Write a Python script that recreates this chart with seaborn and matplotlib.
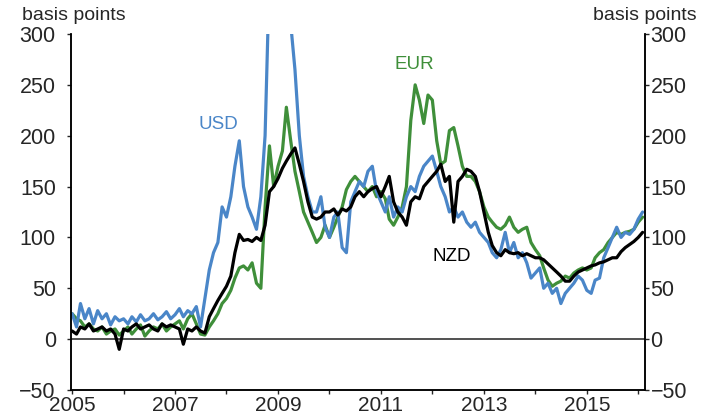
import numpy as np
import pandas as pd
import matplotlib
matplotlib.use("Agg")
import matplotlib.pyplot as plt
import matplotlib.ticker as mticker
import seaborn as sns

sns.set_style("ticks")
plt.rcParams['font.family'] = ['Liberation Sans', 'DejaVu Sans']

# monthly observations, Jan 2005 - Feb 2016 (basis points)
months = pd.date_range("2005-01-01", "2016-02-01", freq="MS")

usd = [25, 12, 35, 20, 30, 15, 28, 20, 25, 14, 22, 18,      # 2005
       20, 15, 22, 17, 24, 18, 20, 25, 19, 22, 27, 20,      # 2006
       24, 30, 22, 28, 25, 32, 12, 40, 68, 85, 95, 130,     # 2007
       120, 140, 170, 195, 150, 130, 120, 108, 140, 200, 360, 380,  # 2008
       360, 340, 330, 310, 265, 200, 160, 140, 125, 125, 140, 110,  # 2009
       100, 120, 125, 90, 85, 135, 145, 155, 150, 165, 170, 145,    # 2010
       135, 125, 140, 120, 130, 125, 140, 150, 145, 160, 170, 175,  # 2011
       180, 165, 150, 140, 125, 130, 120, 125, 115, 110, 115, 105,  # 2012
       100, 95, 85, 80, 88, 105, 85, 95, 80, 85, 75, 60,            # 2013
       65, 70, 50, 55, 45, 50, 35, 45, 50, 55, 62, 58,              # 2014
       48, 45, 58, 60, 80, 90, 100, 110, 100, 105, 103, 108,        # 2015
       118, 125]                                                    # 2016

eur = [25, 20, 18, 12, 15, 10, 8, 12, 5, 8, 10, 4,
       8, 12, 5, 10, 14, 3, 8, 12, 10, 15, 8, 12,
       15, 18, 10, 20, 25, 15, 5, 4, 12, 18, 25, 35,
       40, 48, 60, 70, 72, 68, 75, 55, 50, 130, 190, 150,
       170, 185, 228, 195, 165, 145, 125, 115, 105, 95, 100, 112,
       100, 110, 120, 130, 147, 155, 160, 155, 150, 145, 150, 140,
       145, 138, 118, 112, 120, 130, 150, 215, 250, 235, 212, 240,
       235, 195, 172, 175, 205, 208, 190, 170, 160, 160, 155, 145,
       130, 120, 115, 110, 108, 112, 120, 110, 105, 108, 110, 95,
       88, 82, 70, 58, 52, 55, 57, 62, 60, 65, 68, 70,
       68, 70, 80, 85, 88, 95, 100, 105, 103, 105, 106, 108,
       115, 120]

nzd = [8, 5, 12, 10, 15, 8, 10, 12, 8, 10, 5, -10,
       10, 8, 12, 15, 10, 12, 14, 10, 8, 15, 12, 14,
       12, 10, -5, 10, 8, 12, 8, 6, 22, 30, 38, 45,
       52, 62, 85, 103, 97, 98, 96, 100, 97, 112, 145, 150,
       158, 168, 175, 182, 188, 172, 155, 135, 120, 118, 120, 125,
       125, 128, 122, 128, 126, 130, 140, 145, 140, 145, 148, 150,
       140, 150, 160, 135, 125, 120, 112, 135, 140, 138, 150, 155,
       160, 165, 172, 155, 160, 115, 155, 160, 167, 165, 160, 145,
       125, 105, 92, 85, 82, 88, 85, 84, 85, 82, 84, 82,
       80, 80, 78, 74, 70, 66, 62, 57, 57, 62, 66, 68,
       70, 72, 73, 75, 76, 78, 80, 80, 86, 90, 93, 96,
       100, 105]

colors = {"EUR": "#3f8f3a", "USD": "#4a86c8", "NZD": "#000000"}

df = pd.concat([
    pd.DataFrame({"date": months, "spread": eur, "currency": "EUR"}),
    pd.DataFrame({"date": months, "spread": usd, "currency": "USD"}),
    pd.DataFrame({"date": months, "spread": nzd, "currency": "NZD"}),
])

fig = plt.figure(figsize=(7.04, 4.16), dpi=100)
ax = fig.add_axes([0.1009, 0.0625, 0.8153, 0.8558])

sns.lineplot(data=df, x="date", y="spread", hue="currency",
             hue_order=["EUR", "USD", "NZD"], palette=colors,
             linewidth=2.3, legend=False, ax=ax)
ax.axhline(0, color="#333333", lw=1.2, zorder=1)

ax.set_xlim(pd.Timestamp("2004-12-24"), pd.Timestamp("2016-02-18"))
ax.set_ylim(-50, 300)
ax.set_xlabel("")
ax.set_ylabel("")

years = pd.date_range("2005-01-01", "2016-01-01", freq="YS")
ax.set_xticks(years)
ax.set_xticklabels([str(d.year) if d.year % 2 == 1 else "" for d in years])
yt = np.arange(-50, 301, 50)
ax.set_yticks(yt)
fmt = mticker.FuncFormatter(lambda v, p: f"{v:.0f}".replace("-", "\u2212"))
ax.yaxis.set_major_formatter(fmt)

ax2 = ax.twinx()
ax2.set_ylim(-50, 300)
ax2.set_yticks(yt)
ax2.yaxis.set_major_formatter(fmt)

for a in (ax, ax2):
    a.spines["top"].set_visible(False)
    for s in ("left", "right", "bottom"):
        a.spines[s].set_linewidth(1.1)
        a.spines[s].set_color("black")
ax.tick_params(axis="y", labelsize=15.5, length=3, width=1, pad=8)
ax.tick_params(axis="x", labelsize=15, length=3, width=1, pad=1)
ax2.tick_params(axis="y", labelsize=15.5, length=3, width=1, pad=1)

fig.text(74 / 704, 1 - 16 / 416, "basis points", ha="center", va="center", fontsize=14)
fig.text(645 / 704, 1 - 16 / 416, "basis points", ha="center", va="center", fontsize=14)

ax.text(pd.Timestamp("2007-11-05"), 211, "USD", color=colors["USD"], fontsize=13.5, ha="center", va="center")
ax.text(pd.Timestamp("2011-08-28"), 270, "EUR", color=colors["EUR"], fontsize=13.5, ha="center", va="center")
ax.text(pd.Timestamp("2012-05-18"), 81, "NZD", color="black", fontsize=13.5, ha="center", va="center")

fig.savefig("out.png", dpi=100)
